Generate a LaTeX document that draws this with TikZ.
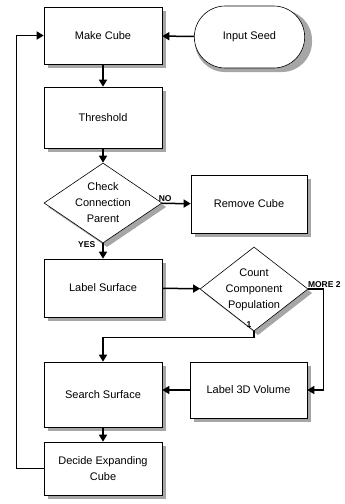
\documentclass[tikz,border=0pt]{standalone}
\usepackage{fontspec}
\setmainfont{Liberation Sans}
\usetikzlibrary{arrows.meta,shapes.geometric,shapes.misc}
\newcommand{\dlines}[1]{\makebox[0pt]{\begin{tabular}{@{}c@{}}#1\end{tabular}}}
\tikzset{
  >={Triangle[length=7pt,width=8pt]},
  proc/.style ={rectangle, draw, line width=0.6pt, fill=white,
                font=\fontsize{11}{16}\selectfont, align=center},
  term/.style ={rounded rectangle, draw, line width=0.6pt, fill=white,
                font=\fontsize{11}{16}\selectfont},
  cond/.style ={diamond, draw, line width=0.6pt, fill=white, inner sep=0pt,
                font=\fontsize{11}{16}\selectfont},
  shd/.style  ={fill=black!35},
  con/.style  ={->, draw, line width=1.5pt},
  lbl/.style  ={font=\fontsize{8.5}{10}\selectfont\bfseries, inner sep=1pt},
}
\begin{document}
\begin{tikzpicture}[x=1pt,y=-1pt]
\useasboundingbox (0,0) rectangle (345,504);
% shadows
\foreach \xa/\ya/\xb/\yb in {48/11/166/68, 48/91/166/152, 195/179/311/237, 48/263/166/321,
                             48/366/166/431, 194/366/311/422, 48/446/166/499}
  \fill[shd] (\xa,\ya) rectangle (\xb,\yb);
\fill[shd, rounded corners=30pt] (195,10) rectangle (312,72);
\fill[shd] (107,167) -- (166,207) -- (107,247) -- (48,207) -- cycle;
\fill[shd] (258,251) -- (312,293) -- (258,335) -- (204,293) -- cycle;
% nodes
\node[proc] (mk)   at (103,35.5)  [minimum width=118pt, minimum height=57pt] {Make Cube};
\node[term] (seed) at (249.5,37)  [minimum width=117pt, minimum height=62pt] {Input Seed};
\node[proc] (thr)  at (103,117.5) [minimum width=118pt, minimum height=61pt] {Threshold};
\node[cond] (chk)  at (103,203)   [minimum width=118pt, minimum height=80pt] {\dlines{Check\\Connection\\Parent}};
\node[proc] (rem)  at (249,204)   [minimum width=116pt, minimum height=58pt] {Remove Cube};
\node[proc] (lsf)  at (103,288)   [minimum width=118pt, minimum height=58pt] {Label Surface};
\node[cond] (cnt)  at (254,289)   [minimum width=108pt, minimum height=84pt] {\dlines{Count\\Component\\Population}};
\node[proc] (srch) at (103,394.5) [minimum width=118pt, minimum height=65pt] {Search Surface};
\node[proc] (l3d)  at (248.5,390) [minimum width=117pt, minimum height=56pt] {Label 3D Volume};
\node[proc] (dec)  at (103,468.5) [minimum width=118pt, minimum height=53pt] {Decide Expanding\\Cube};
\draw[con] (seed) -- (mk);
\draw[con] (mk) -- (thr);
\draw[con] (thr) -- (chk);
\draw[con] (chk) -- node[lbl,above,pos=0.12] {NO} (rem);
\draw[con] (chk) -- node[lbl,left,pos=0.1,xshift=-6pt] {YES} (lsf);
\draw[con] (lsf) -- (cnt);
\draw[con] (cnt.east) node[lbl,above right,xshift=-2pt] {MORE 2} -- ++(15,0) |- (l3d.east);
\draw[con] (cnt.south) node[lbl,above left,xshift=-1pt,yshift=2pt] {1} -- ++(0,6) -| (srch.north);
\draw[con] (l3d.west) -- (l3d.west -| srch.east);
\draw[con] (srch) -- (dec);
\draw[con] (dec.west) -- ++(-27,0) |- (mk.west);
\end{tikzpicture}
\end{document}
